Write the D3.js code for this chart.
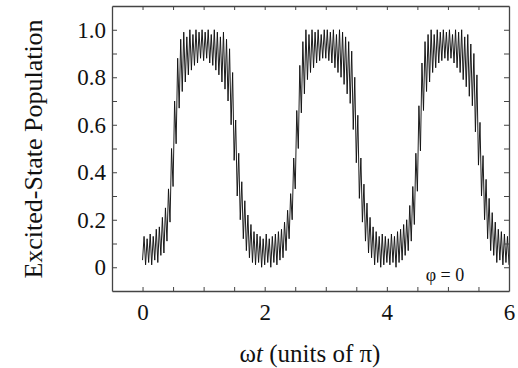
<!DOCTYPE html>
<html>
<head>
<meta charset="utf-8">
<script src="https://cdn.jsdelivr.net/npm/d3@7"></script>
<style>
  body { margin: 0; background: #fff; }
  svg { display: block; }
  text { font-family: "Liberation Serif", "Times New Roman", serif; fill: #111; }
</style>
</head>
<body>
<svg id="chart"></svg>
<script>
// sampled population, one value every 0.025 (units of pi), from 0 to 6
let tStep = 0.025
let population = [
  0.03, 0.13, 0.01, 0.12, 0.02, 0.14, 0.01, 0.13, 0.03, 0.16,
  0.02, 0.17, 0.05, 0.21, 0.06, 0.25, 0.11, 0.33, 0.19, 0.50,
  0.34, 0.70, 0.52, 0.88, 0.67, 0.96, 0.74, 0.99, 0.78, 0.97,
  0.81, 1.00, 0.83, 0.98, 0.85, 1.00, 0.86, 0.99, 0.88, 1.00,
  0.87, 0.99, 0.88, 1.00, 0.86, 0.98, 0.85, 1.00, 0.83, 0.99,
  0.81, 0.97, 0.78, 0.99, 0.75, 0.96, 0.70, 0.92, 0.60, 0.82,
  0.45, 0.62, 0.30, 0.48, 0.20, 0.36, 0.12, 0.28, 0.07, 0.22,
  0.04, 0.18, 0.02, 0.15, 0.01, 0.14, 0.02, 0.13, 0.00, 0.12,
  0.01, 0.14, 0.02, 0.12, 0.00, 0.13, 0.02, 0.14, 0.01, 0.15,
  0.03, 0.16, 0.04, 0.19, 0.07, 0.24, 0.12, 0.31, 0.20, 0.46,
  0.33, 0.66, 0.50, 0.85, 0.65, 0.95, 0.73, 1.00, 0.79, 0.98,
  0.82, 1.00, 0.84, 0.99, 0.86, 1.00, 0.87, 0.98, 0.88, 1.00,
  0.88, 1.00, 0.87, 0.99, 0.86, 1.00, 0.84, 0.98, 0.82, 1.00,
  0.80, 0.99, 0.77, 0.97, 0.73, 0.95, 0.69, 0.91, 0.58, 0.80,
  0.44, 0.64, 0.29, 0.46, 0.19, 0.35, 0.11, 0.27, 0.06, 0.21,
  0.04, 0.17, 0.01, 0.15, 0.02, 0.13, 0.00, 0.14, 0.01, 0.13,
  0.02, 0.12, 0.01, 0.14, 0.02, 0.13, 0.00, 0.15, 0.02, 0.16,
  0.03, 0.18, 0.05, 0.20, 0.07, 0.26, 0.11, 0.34, 0.18, 0.48,
  0.32, 0.68, 0.49, 0.86, 0.66, 0.95, 0.74, 0.98, 0.78, 1.00,
  0.82, 0.98, 0.84, 1.00, 0.86, 0.99, 0.87, 1.00, 0.88, 0.99,
  0.87, 1.00, 0.88, 0.98, 0.86, 1.00, 0.84, 0.99, 0.82, 1.00,
  0.79, 0.97, 0.76, 0.98, 0.72, 0.94, 0.68, 0.90, 0.57, 0.81,
  0.43, 0.61, 0.30, 0.47, 0.20, 0.37, 0.12, 0.29, 0.07, 0.23,
  0.05, 0.19, 0.02, 0.16, 0.03, 0.15, 0.01, 0.14, 0.02, 0.13,
  0.01
]

let xTicks = [0, 0.5, 1, 1.5, 2, 2.5, 3, 3.5, 4, 4.5, 5, 5.5]
let xTickLabels = [0, 2, 4, 6]
let yTicks = [0, 0.1, 0.2, 0.3, 0.4, 0.5, 0.6, 0.7, 0.8, 0.9, 1.0]
let yTickLabels = ["0", "0.2", "0.4", "0.6", "0.8", "1.0"]

let svgWidth = 518, svgHeight = 368
let plotLeft = 112, plotRight = 509, plotTop = 6, plotBottom = 291

let svg = d3.select("#chart")
  .attr("width", svgWidth)
  .attr("height", svgHeight)

let xScale = d3.scaleLinear().domain([-0.5, 6]).range([plotLeft, plotRight])
let yScale = d3.scaleLinear().domain([-0.1, 1.1]).range([plotBottom, plotTop])

// the trace
let line = d3.line()
  .x((d, i) => xScale(i * tStep))
  .y(d => yScale(d))

svg.append("path")
  .datum(population)
  .attr("d", line)
  .attr("fill", "none")
  .attr("stroke", "#111")
  .attr("stroke-width", 0.95)

// axes, ticks pointing inward
let xFmt = d => xTickLabels.includes(d) ? String(d) : ""
let yFmt = d => {
  let s = d === 0 ? "0" : d.toFixed(1)
  return yTickLabels.includes(s) ? s : ""
}

let xAxis = d3.axisBottom(xScale).tickValues(xTicks.concat([6])).tickFormat(xFmt)
  .tickSizeInner(-4).tickSizeOuter(0).tickPadding(13)
let xTop = d3.axisTop(xScale).tickValues(xTicks).tickFormat("")
  .tickSizeInner(-4).tickSizeOuter(0)
let yAxis = d3.axisLeft(yScale).tickValues(yTicks).tickFormat(yFmt)
  .tickSizeInner(-5).tickSizeOuter(0).tickPadding(6)
let yRight = d3.axisRight(yScale).tickValues(yTicks).tickFormat("")
  .tickSizeInner(-5).tickSizeOuter(0)

function styleAxis(g, size) {
  g.select(".domain").attr("stroke", "#444").attr("stroke-width", 1.3)
  g.selectAll(".tick line").attr("stroke", "#444").attr("stroke-width", 1)
  g.selectAll(".tick text")
    .attr("font-family", "Liberation Serif, serif")
    .attr("font-size", size)
    .attr("fill", "#111")
}

svg.append("g").attr("transform", "translate(0," + plotBottom + ")").call(xAxis).call(g => styleAxis(g, 23))
svg.append("g").attr("transform", "translate(0," + plotTop + ")").call(xTop).call(g => styleAxis(g, 23))
svg.append("g").attr("transform", "translate(" + plotLeft + ",0)").call(yAxis).call(g => styleAxis(g, 23))
svg.append("g").attr("transform", "translate(" + plotRight + ",0)").call(yRight).call(g => styleAxis(g, 23))

// labels
svg.append("text")
  .attr("transform", "translate(33,149) rotate(-90)")
  .attr("text-anchor", "middle")
  .attr("dy", "0.35em")
  .attr("font-size", 26)
  .text("Excited-State Population")

let xl = svg.append("text")
  .attr("x", 310)
  .attr("y", 362)
  .attr("text-anchor", "middle")
  .attr("font-size", 25)
xl.append("tspan").text("ω")
xl.append("tspan").attr("font-style", "italic").text("t")
xl.append("tspan").text(" (units of π)")

svg.append("text")
  .attr("x", 445)
  .attr("y", 281)
  .attr("text-anchor", "middle")
  .attr("font-size", 18)
  .text("φ = 0")
</script>
</body>
</html>
